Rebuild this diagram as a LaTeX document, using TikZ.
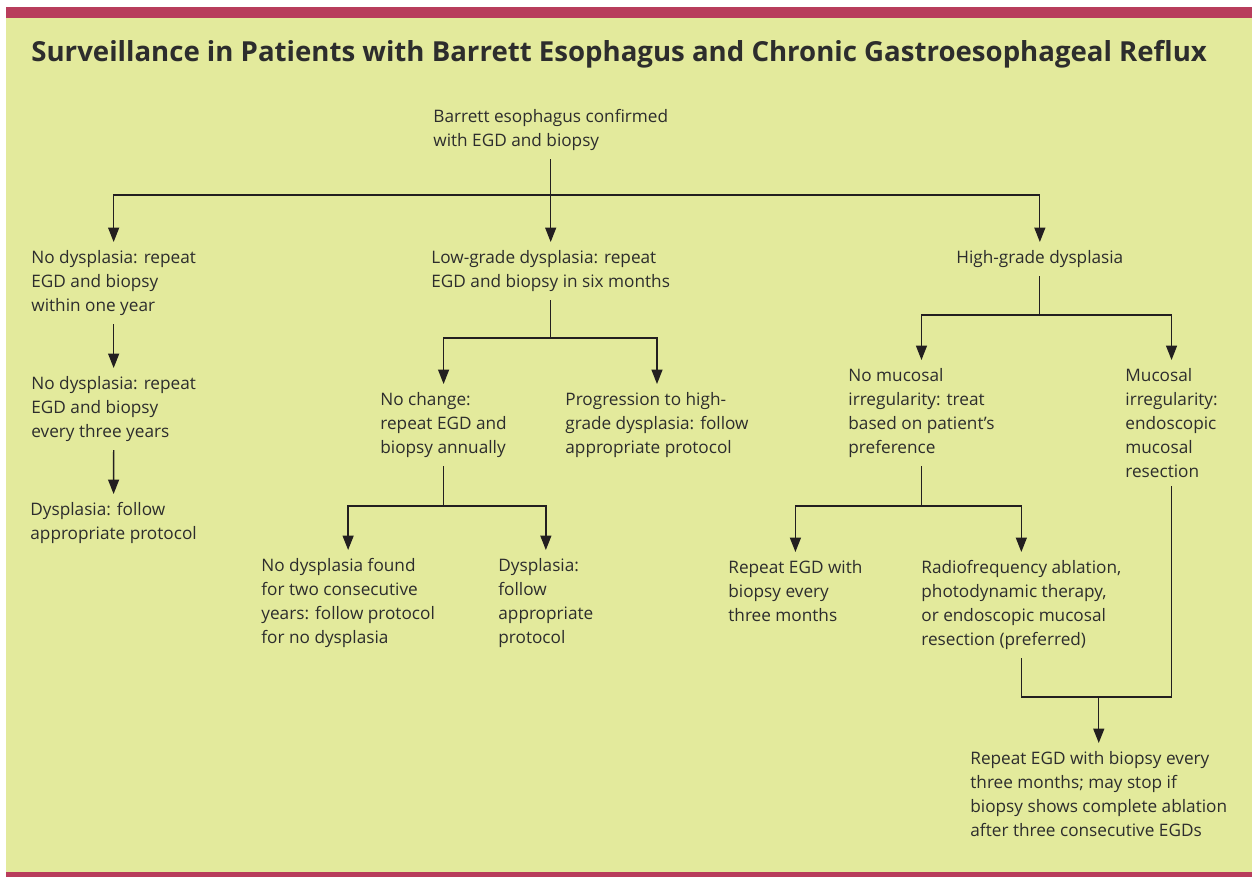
\documentclass[tikz,border=0pt]{standalone}
\usepackage{fontspec}
\setmainfont{Open Sans}
\usetikzlibrary{arrows.meta}
\definecolor{bgpale}{RGB}{227,234,156}
\definecolor{barred}{RGB}{184,61,92}
\definecolor{inkgray}{RGB}{45,45,45}
\definecolor{linegray}{RGB}{35,31,32}
\begin{document}
\begin{tikzpicture}[x=0.5pt,y=-0.5pt,
    txt/.style={anchor=north west, align=left, inner xsep=0pt, inner ysep=4pt,
      text=inkgray, font=\fontsize{8.6}{12}\selectfont},
    link/.style={draw=linegray, line width=0.65pt},
    arr/.style={link, -{Triangle[length=7.2pt,width=5.5pt]}}]
    \useasboundingbox (0,0) rectangle (1252,877);
    \fill[white] (0,0) rectangle (1252,877);
    \fill[bgpale] (6,18) rectangle (1252,872);
    \fill[barred] (6,7) rectangle (1252,18);
    \fill[barred] (6,872) rectangle (1252,877);

    \node[anchor=base west, inner sep=0pt, text=inkgray,
      font=\bfseries\fontsize{13.8}{16}\selectfont] (title) at (31,62)
      {Surveillance in Patients with Barrett Esophagus and Chronic Gastroesophageal Reflux};

    \node[txt] (root) at (433,101) {Barrett esophagus confirmed\\with EGD and biopsy};

    \node[txt] (nodys) at (31,242) {No dysplasia: repeat\\EGD and biopsy\\within one year};
    \node[txt] (nodysb) at (31,368) {No dysplasia: repeat\\EGD and biopsy\\every three years};
    \node[txt] (dysa) at (30,494) {Dysplasia: follow\\appropriate protocol};

    \node[txt] (low) at (431,242) {Low-grade dysplasia: repeat\\EGD and biopsy in six months};
    \node[txt] (nochg) at (380,384) {No change:\\repeat EGD and\\biopsy annually};
    \node[txt] (prog) at (565,384) {Progression to high-\\grade dysplasia: follow\\appropriate protocol};
    \node[txt] (twoyr) at (261,550) {No dysplasia found\\for two consecutive\\years: follow protocol\\for no dysplasia};
    \node[txt] (dysb) at (498,550) {Dysplasia:\\follow\\appropriate\\protocol};

    \node[txt] (high) at (956,242) {High-grade dysplasia};
    \node[txt] (noirr) at (848,360) {No mucosal\\irregularity: treat\\based on patient’s\\preference};
    \node[txt] (irr) at (1125,360) {Mucosal\\irregularity:\\endoscopic\\mucosal\\resection};
    \node[txt] (rep3) at (728,552) {Repeat EGD with\\biopsy every\\three months};
    \node[txt] (abl) at (921,552) {Radiofrequency ablation,\\photodynamic therapy,\\or endoscopic mucosal\\resection (preferred)};
    \node[txt] (final) at (970,743) {Repeat EGD with biopsy every\\three months; may stop if\\biopsy shows complete ablation\\after three consecutive EGDs};

    \draw[link] (root.south) -- ++(0,36) coordinate (j0);
    \draw[arr] (j0) -| (nodys.north);
    \draw[arr] (j0) -| (high.north);
    \draw[arr] (low.north |- j0) -- (low.north);
    \draw[arr] (nodys.south) -- (nodysb.north);
    \draw[arr] (nodysb.south) -- (dysa.north);

    \draw[link] (low.south) -- ++(0,38) coordinate (j1);
    \draw[arr] (j1) -| (nochg.north);
    \draw[arr] (j1) -| (prog.north);
    \draw[link] (nochg.south) -- ++(0,40) coordinate (j2);
    \draw[arr] (j2) -| (twoyr.north);
    \draw[arr] (j2) -| (dysb.north);

    \draw[link] (high.south) -- ++(0,39) coordinate (j3);
    \draw[arr] (j3) -| (noirr.north);
    \draw[arr] (j3) -| (irr.north);
    \draw[link] (noirr.south) -- ++(0,40) coordinate (j4);
    \draw[arr] (j4) -| (rep3.north);
    \draw[arr] (j4) -| (abl.north);

    \draw[link] (abl.south) -- ++(0,39) coordinate (j5) -- (j5 -| irr.south) -- (irr.south);
    \draw[arr] (final.north |- j5) -- (final.north);
\end{tikzpicture}
\end{document}
